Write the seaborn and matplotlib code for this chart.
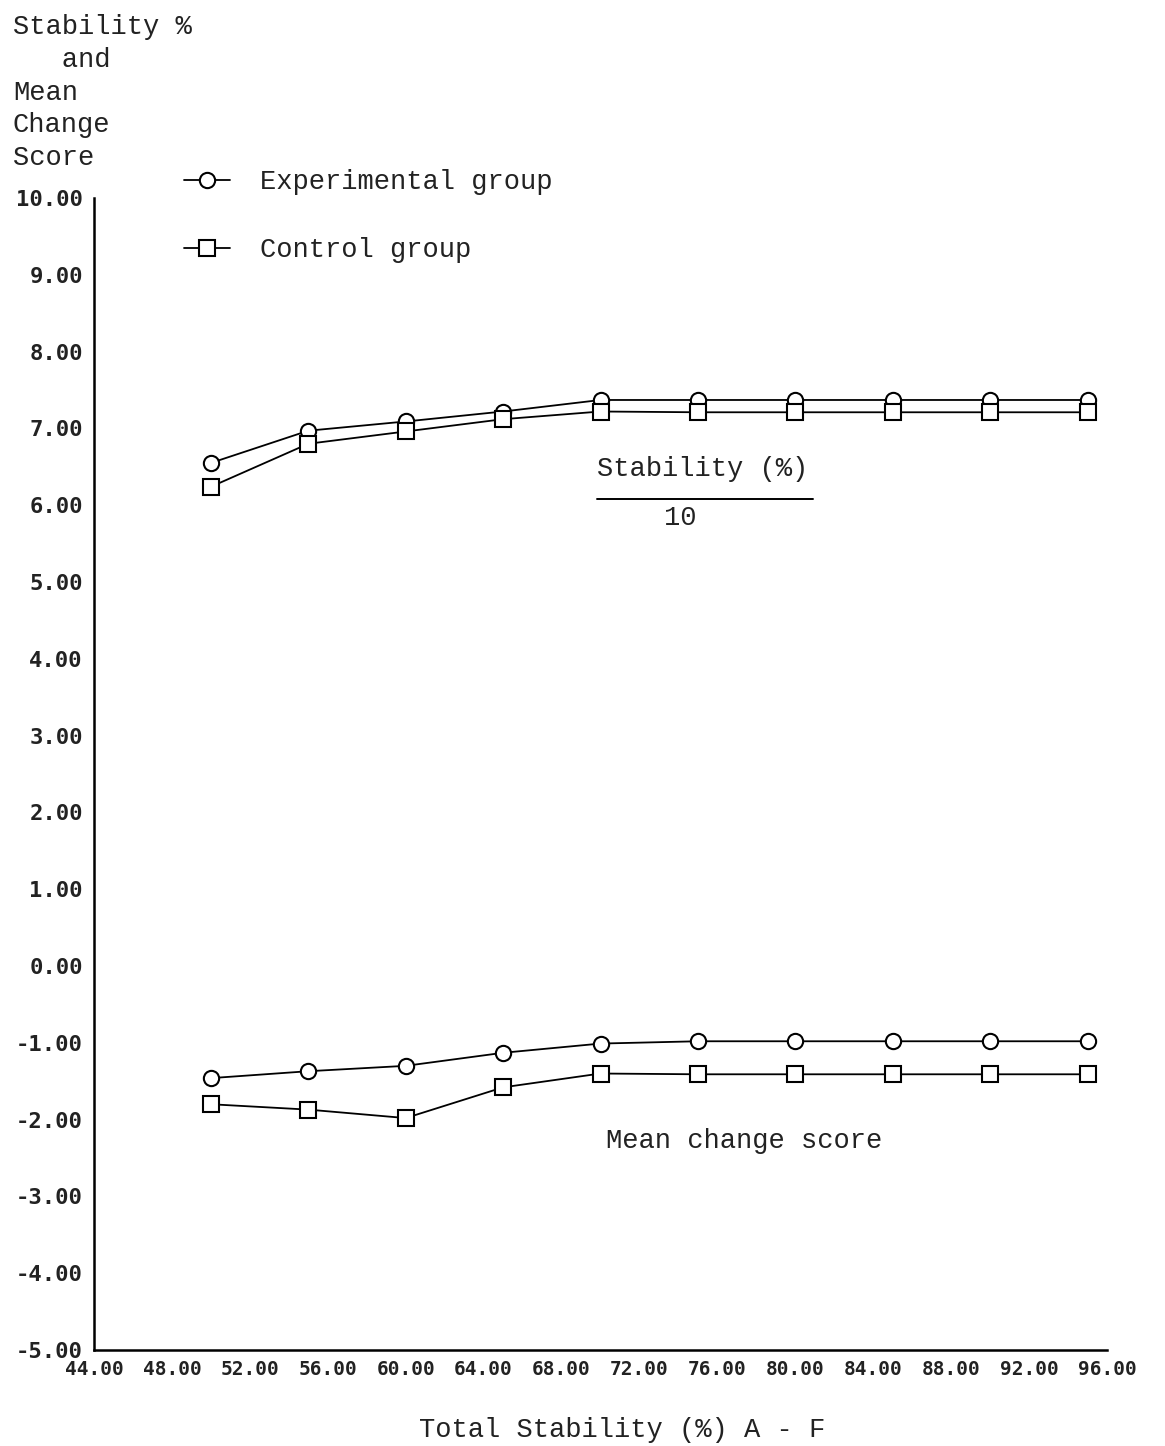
import matplotlib
matplotlib.use("Agg")
import matplotlib.pyplot as plt
import seaborn as sns
import pandas as pd
from matplotlib.lines import Line2D

# Total stability (%) A - F
stability_pct = [50, 55, 60, 65, 70, 75, 80, 85, 90, 95]

# Stability (%) / 10
exp_stability = [6.55, 6.97, 7.09, 7.22, 7.37, 7.37, 7.37, 7.37, 7.37, 7.37]
ctl_stability = [6.24, 6.80, 6.96, 7.12, 7.22, 7.21, 7.21, 7.21, 7.21, 7.21]

# Mean change score
exp_change = [-1.46, -1.37, -1.30, -1.13, -1.01, -0.98, -0.98, -0.98, -0.98, -0.98]
ctl_change = [-1.80, -1.87, -1.98, -1.58, -1.40, -1.41, -1.41, -1.41, -1.41, -1.41]

x_ticks = [44, 48, 52, 56, 60, 64, 68, 72, 76, 80, 84, 88, 92, 96]
y_ticks = [10, 9, 8, 7, 6, 5, 4, 3, 2, 1, 0, -1, -2, -3, -4, -5]

groups = ["Experimental group", "Control group"]
markers = {"Experimental group": "o", "Control group": "s"}

rows = []
for g, stab, chg in [(groups[0], exp_stability, exp_change),
                     (groups[1], ctl_stability, ctl_change)]:
    for xv, s, c in zip(stability_pct, stab, chg):
        rows.append({"group": g, "measure": "stability", "x": xv, "y": s})
        rows.append({"group": g, "measure": "change", "x": xv, "y": c})
df = pd.DataFrame(rows)

sns.set_theme(style="white")
mono = "Liberation Mono"
tick_font = "DejaVu Sans Mono"
ink = "#222222"

fig = plt.figure(figsize=(11.65, 14.46), dpi=100)
ax = fig.add_axes([94 / 1165, 1 - 1350 / 1446, (1107 - 94) / 1165, (1350 - 198) / 1446])

for g in groups:
    for m in ["stability", "change"]:
        sub = df[(df.group == g) & (df.measure == m)]
        sns.lineplot(data=sub, x="x", y="y", ax=ax, color="black", lw=1.3,
                     marker=markers[g], markersize=11, markerfacecolor="white",
                     markeredgecolor="black", markeredgewidth=1.5, legend=False)

ax.set_xlim(44, 96)
ax.set_ylim(-5, 10)
ax.set_xticks(x_ticks)
ax.set_xticklabels([f"{v:.2f}" for v in x_ticks])
ax.set_yticks(y_ticks)
ax.set_yticklabels([f"{v:.2f}" for v in y_ticks])
for lab in ax.get_yticklabels():
    lab.set_fontfamily(tick_font)
    lab.set_fontweight("bold")
    lab.set_fontsize(16)
    lab.set_color(ink)
for lab in ax.get_xticklabels():
    lab.set_fontfamily(tick_font)
    lab.set_fontweight("bold")
    lab.set_fontsize(14)
    lab.set_color(ink)
ax.tick_params(axis="x", direction="in", length=8, width=1.5, pad=7, colors="black",
               labelcolor=ink)
ax.tick_params(axis="y", direction="out", length=5, width=1.5, pad=3, colors="black",
               labelcolor=ink)
ax.set_xlabel("")
ax.set_ylabel("")
for side in ["top", "right"]:
    ax.spines[side].set_visible(False)
for side in ["left", "bottom"]:
    ax.spines[side].set_color("black")
    ax.spines[side].set_linewidth(1.8)

# y-axis title stacked at top-left
fig.text(13 / 1165, 1 - 14 / 1446,
         "Stability %\n   and\nMean\nChange\nScore",
         fontfamily=mono, fontsize=19.5, va="top", ha="left", linespacing=1.34,
         color=ink)

# x-axis title
fig.text(622 / 1165, 1 - 1430 / 1446, "Total Stability (%) A - F",
         fontfamily=mono, fontsize=19.5, va="center", ha="center", color=ink)

# legend
handles = [Line2D([], [], color="black", lw=1.3, marker=markers[g], markersize=11,
                  markerfacecolor="white", markeredgecolor="black",
                  markeredgewidth=1.5) for g in groups]
fig.legend(handles, groups, loc="upper left",
           bbox_to_anchor=(184 / 1165, 1 - 169 / 1446),
           frameon=False, prop={"family": mono, "size": 19.5},
           handlelength=1.7, handletextpad=1.1, labelspacing=1.55,
           borderpad=0, borderaxespad=0, labelcolor=ink)

# series annotations
ax.text(69.8, 6.47, "Stability (%)", fontfamily=mono, fontsize=19.5,
        ha="left", va="center", color=ink)
ax.plot([69.8, 80.9], [6.08, 6.08], color="black", lw=1.4)
ax.text(74.1, 5.83, "10", fontfamily=mono, fontsize=19.5, ha="center", va="center",
        color=ink)
ax.text(70.3, -2.28, "Mean change score", fontfamily=mono, fontsize=19.5,
        ha="left", va="center", color=ink)

fig.savefig("out.png", dpi=100, facecolor="white")
